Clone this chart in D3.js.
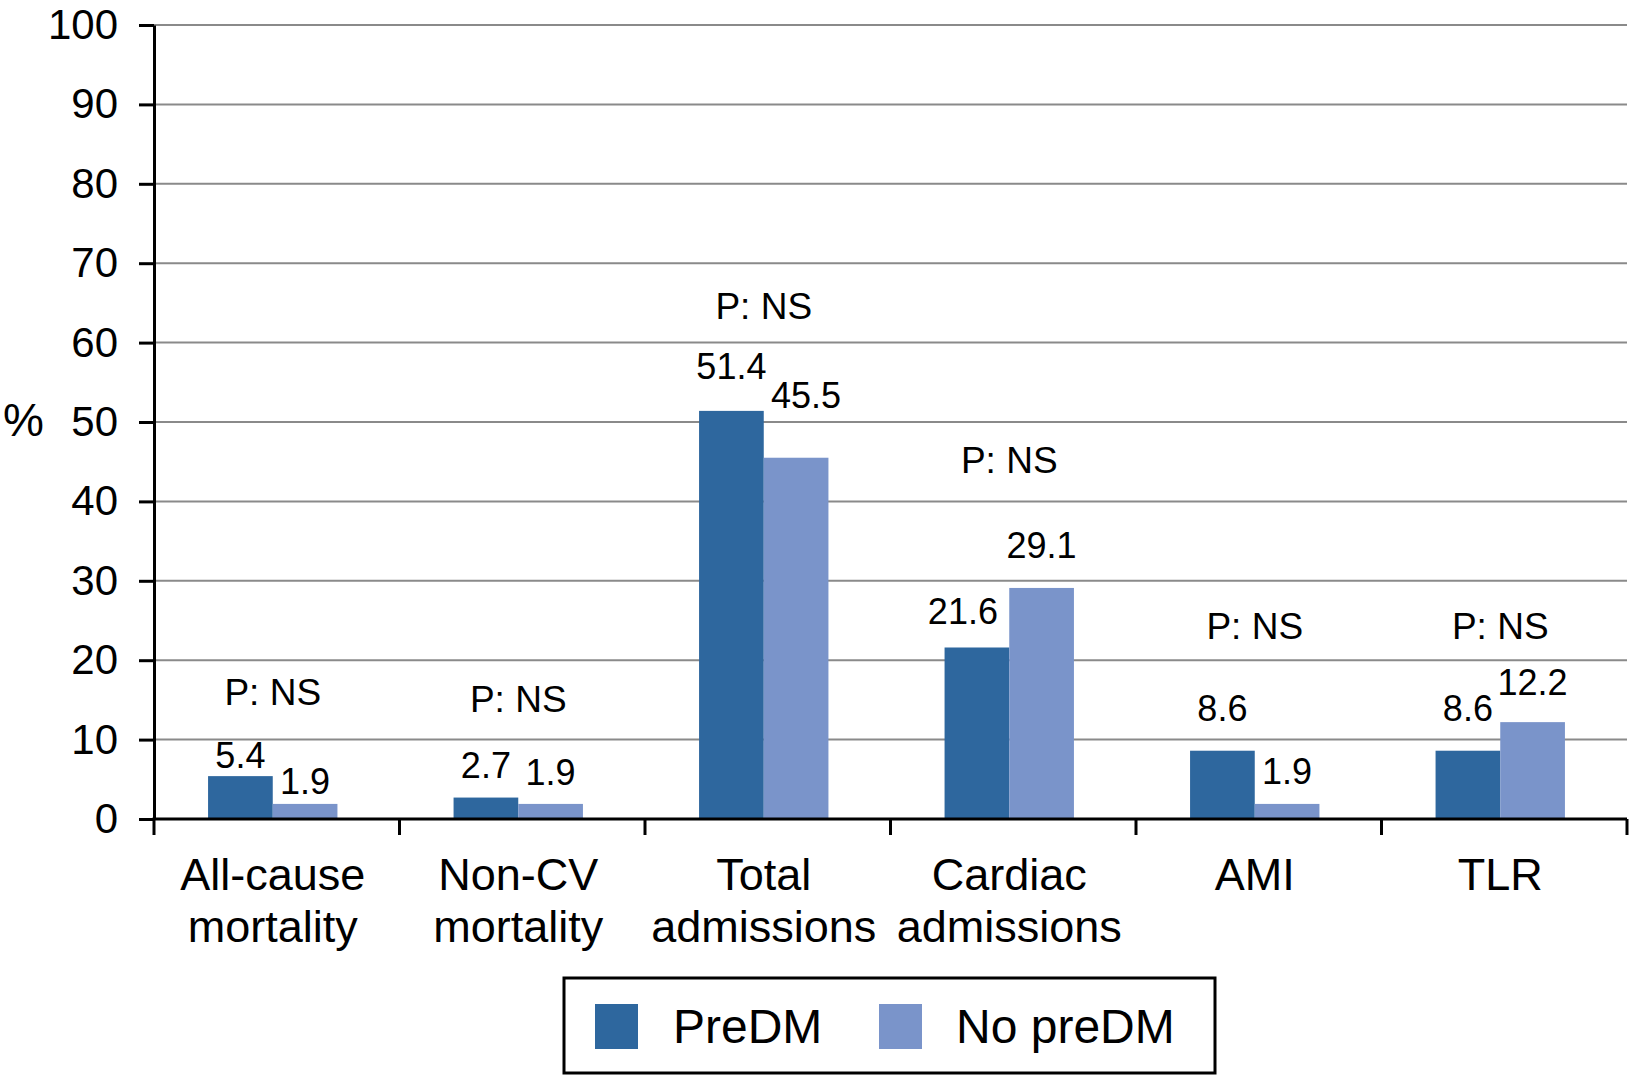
<!DOCTYPE html>
<html>
<head>
<meta charset="utf-8">
<style>
  body { margin: 0; background: #fff; }
  svg { display: block; font-family: 'Liberation Sans', Arial, Helvetica, sans-serif; }
</style>
<script src="https://cdn.jsdelivr.net/npm/d3@7"></script>
</head>
<body>
<svg id="chart"></svg>
<script>
/* global d3 */

const categories = [
  ['All-cause', 'mortality'],
  ['Non-CV', 'mortality'],
  ['Total', 'admissions'],
  ['Cardiac', 'admissions'],
  ['AMI'],
  ['TLR']
]
const seriesNames = ['PreDM', 'No preDM']
const preDM = [5.4, 2.7, 51.4, 21.6, 8.6, 8.6]
const noPreDM = [1.9, 1.9, 45.5, 29.1, 1.9, 12.2]
const pNotes = ['P: NS', 'P: NS', 'P: NS', 'P: NS', 'P: NS', 'P: NS']
const yTicks = [0, 10, 20, 30, 40, 50, 60, 70, 80, 90, 100]

const colors = ['#2e679e', '#7a94ca']

// hand-placed label tweaks, as in the original figure
const valueNudge = [
  [[0, -8], [0, -10]],
  [[0, -20], [0, -19]],
  [[0, -32], [10, -50]],
  [[-14, -23], [0, -30]],
  [[0, -30], [0, -20]],
  [[0, -30], [0, -27]]
]
const pNoteAt = [14.4, 13.5, 63.0, 43.6, 22.7, 22.7]

function render () {
  const width = 1629
  const height = 1076
  const margin = { top: 25, left: 154, right: 2, bottom: 257 }
  const shift = -4

  const svg = d3.select('#chart')
    .attr('width', width)
    .attr('height', height)

  const keys = categories.map(c => c.join(' '))

  const x = d3.scaleBand()
    .domain(keys)
    .range([margin.left, width - margin.right])
    .paddingInner(0.473)
    .paddingOuter(0.2365)

  const xs = d3.scaleBand()
    .domain(seriesNames)
    .range([0, x.bandwidth()])

  const y = d3.scaleLinear()
    .domain([0, 100])
    .range([height - margin.bottom, margin.top])

  // gridlines
  svg.append('g')
    .selectAll('line').data(yTicks.filter(d => d > 0)).enter().append('line')
    .attr('x1', margin.left)
    .attr('x2', width - margin.right)
    .attr('y1', d => y(d))
    .attr('y2', d => y(d))
    .attr('stroke', '#8a8a8a')
    .attr('stroke-width', 2)

  // bars
  const rows = keys.map((k, i) => ({ key: k, values: [preDM[i], noPreDM[i]], i }))

  const groups = svg.append('g')
    .selectAll('g').data(rows).enter().append('g')
    .attr('transform', d => `translate(${x(d.key) + shift},0)`)

  groups.selectAll('rect')
    .data(d => d.values.map((v, j) => ({ v, j })))
    .enter().append('rect')
    .attr('x', d => xs(seriesNames[d.j]))
    .attr('y', d => y(d.v))
    .attr('width', xs.bandwidth())
    .attr('height', d => y(0) - y(d.v))
    .attr('fill', d => colors[d.j])

  groups.selectAll('text.value')
    .data(d => d.values.map((v, j) => ({ v, j, i: d.i })))
    .enter().append('text')
    .attr('class', 'value')
    .attr('x', d => xs(seriesNames[d.j]) + xs.bandwidth() / 2 + valueNudge[d.i][d.j][0])
    .attr('y', d => y(d.v) + valueNudge[d.i][d.j][1])
    .attr('text-anchor', 'middle')
    .attr('font-size', 36)
    .attr('fill', '#000')
    .text(d => d.v.toFixed(1))

  groups.append('text')
    .attr('x', x.bandwidth() / 2)
    .attr('y', d => y(pNoteAt[d.i]))
    .attr('text-anchor', 'middle')
    .attr('font-size', 37)
    .attr('fill', '#000')
    .text(d => pNotes[d.i])

  // y axis
  const yAxis = svg.append('g')
    .attr('transform', `translate(${margin.left},0)`)
    .call(d3.axisLeft(y).tickValues(yTicks).tickSize(15).tickPadding(21).tickSizeOuter(0))

  yAxis.select('.domain').attr('stroke', '#000').attr('stroke-width', 3)
  yAxis.selectAll('.tick line').attr('stroke', '#000').attr('stroke-width', 3)
  yAxis.selectAll('.tick text')
    .attr('font-size', 42)
    .attr('font-family', null)
    .attr('fill', '#000')

  svg.append('text')
    .attr('x', 3)
    .attr('y', 436)
    .attr('font-size', 46)
    .attr('fill', '#000')
    .text('%')

  // x axis
  const x0 = y(0)
  const bounds = d3.range(keys.length + 1).map(i => x.range()[0] + i * x.step())

  svg.append('line')
    .attr('x1', margin.left - 1.5)
    .attr('x2', width - margin.right)
    .attr('y1', x0)
    .attr('y2', x0)
    .attr('stroke', '#000')
    .attr('stroke-width', 3)

  svg.append('g')
    .selectAll('line').data(bounds).enter().append('line')
    .attr('x1', d => d)
    .attr('x2', d => d)
    .attr('y1', x0)
    .attr('y2', x0 + 16)
    .attr('stroke', '#000')
    .attr('stroke-width', 3)

  const catLabels = svg.append('g')
    .selectAll('text').data(categories).enter().append('text')
    .attr('text-anchor', 'middle')
    .attr('font-size', 45)
    .attr('fill', '#000')

  catLabels.selectAll('tspan')
    .data((d, i) => d.map(line => ({ line, i })))
    .enter().append('tspan')
    .attr('x', d => x(keys[d.i]) + x.bandwidth() / 2 + shift)
    .attr('y', (d, j) => 890 + j * 52)
    .text(d => d.line)

  // legend
  const legend = svg.append('g')

  legend.append('rect')
    .attr('x', 564)
    .attr('y', 978)
    .attr('width', 651)
    .attr('height', 95)
    .attr('fill', '#fff')
    .attr('stroke', '#000')
    .attr('stroke-width', 3)

  const items = [
    { name: seriesNames[0], sx: 595, tx: 673 },
    { name: seriesNames[1], sx: 879, tx: 956 }
  ]

  legend.selectAll('rect.swatch')
    .data(items).enter().append('rect')
    .attr('class', 'swatch')
    .attr('x', d => d.sx)
    .attr('y', 1004)
    .attr('width', 43)
    .attr('height', 45)
    .attr('fill', (d, i) => colors[i])

  legend.selectAll('text')
    .data(items).enter().append('text')
    .attr('x', d => d.tx)
    .attr('y', 1043)
    .attr('font-size', 48)
    .attr('fill', '#000')
    .text(d => d.name)
}

render()
</script>
</body>
</html>
